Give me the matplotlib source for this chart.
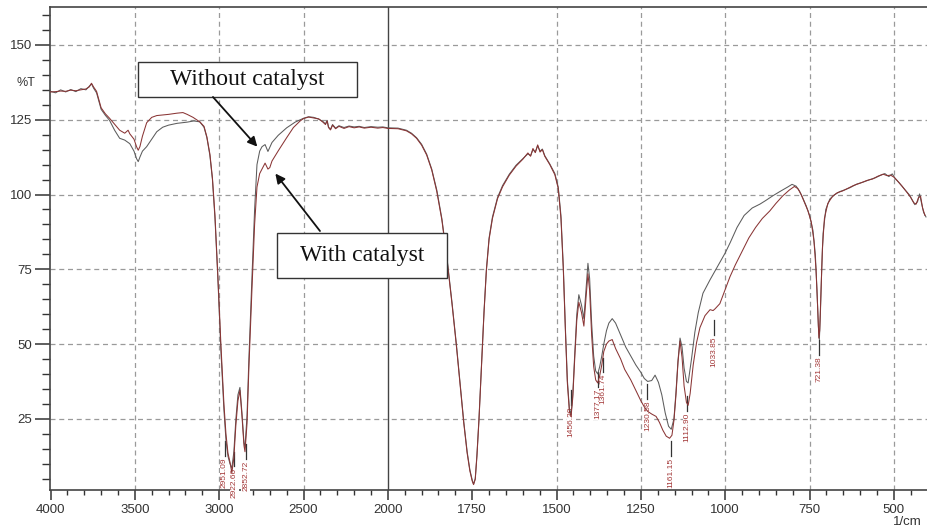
import numpy as np
import matplotlib.pyplot as plt

# FTIR spectra (wavenumber 1/cm, %T)
without_catalyst = [
    (4000, 134.5), (3970, 134.0), (3940, 135.0), (3910, 134.3), (3880, 135.1),
    (3850, 134.4), (3820, 135.4), (3790, 135.0), (3770, 136.2), (3757, 137.0),
    (3745, 135.6), (3727, 134.0), (3700, 128.5), (3675, 126.5), (3650, 124.8),
    (3620, 121.5), (3590, 118.8), (3560, 118.2), (3530, 117.0), (3505, 114.5),
    (3490, 112.0), (3480, 111.0), (3470, 112.5), (3455, 114.5), (3430, 116.0),
    (3400, 118.5), (3370, 121.0), (3335, 122.5), (3300, 123.2), (3250, 123.8),
    (3190, 124.2), (3150, 124.6), (3115, 124.3), (3090, 122.5), (3073, 119.0),
    (3055, 113.0), (3040, 105.0), (3025, 92.0), (3008, 72.0), (2990, 48.0),
    (2972, 28.0), (2960, 18.0), (2948, 12.5), (2936, 10.0), (2925, 8.5),
    (2913, 14.0), (2901, 25.0), (2889, 33.0), (2877, 35.5), (2865, 27.0),
    (2853, 17.0), (2847, 15.5), (2835, 26.0), (2824, 45.0), (2806, 72.0),
    (2790, 95.0), (2776, 110.0), (2760, 114.5), (2746, 116.0), (2728, 116.7),
    (2711, 114.4), (2700, 115.8), (2687, 117.4), (2650, 119.8), (2600, 122.3),
    (2550, 124.2), (2500, 125.5), (2470, 126.0), (2440, 125.8), (2410, 125.2),
    (2385, 124.4), (2370, 123.6), (2360, 124.8), (2352, 122.6), (2340, 121.8),
    (2328, 123.4), (2310, 122.2), (2290, 123.0), (2260, 122.4), (2230, 122.9),
    (2200, 122.6), (2170, 122.8), (2140, 122.4), (2100, 122.7), (2060, 122.5),
    (2030, 122.6), (2000, 122.3), (1970, 122.2), (1945, 121.5), (1930, 120.5),
    (1915, 119.0), (1900, 116.8), (1885, 113.5), (1870, 108.5), (1855, 101.5),
    (1840, 92.0), (1825, 79.0), (1810, 64.0), (1797, 50.0), (1785, 36.0),
    (1775, 24.0), (1765, 14.0), (1757, 8.0), (1750, 4.5), (1746, 3.2),
    (1741, 5.0), (1736, 13.0), (1730, 25.0), (1722, 44.0), (1715, 61.0),
    (1708, 75.0), (1700, 85.5), (1690, 92.5), (1675, 99.0), (1660, 103.0),
    (1640, 106.8), (1620, 109.8), (1600, 112.0), (1585, 113.6), (1577, 113.0),
    (1570, 115.0), (1563, 114.2), (1556, 116.3), (1549, 114.5), (1542, 115.2),
    (1535, 113.0), (1520, 110.2), (1505, 107.0), (1495, 102.5), (1487, 93.0),
    (1480, 76.0), (1474, 56.0), (1468, 38.0), (1462, 28.5), (1457, 26.5),
    (1452, 33.0), (1446, 47.0), (1440, 60.0), (1434, 66.5), (1426, 63.0),
    (1419, 58.5), (1413, 68.0), (1407, 77.0), (1402, 72.0), (1396, 57.0),
    (1390, 46.0), (1384, 41.0), (1378, 40.0), (1372, 42.5), (1366, 46.0),
    (1360, 50.0), (1352, 54.5), (1345, 57.0), (1335, 58.5), (1325, 57.0),
    (1310, 53.0), (1295, 49.0), (1280, 46.0), (1265, 43.0), (1250, 40.5),
    (1240, 38.5), (1230, 37.5), (1218, 37.8), (1208, 39.6), (1198, 37.2),
    (1188, 33.0), (1178, 27.0), (1168, 22.5), (1160, 21.5), (1152, 25.0),
    (1146, 34.0), (1140, 44.5), (1134, 52.0), (1128, 49.0), (1122, 42.0),
    (1115, 37.5), (1110, 37.0), (1100, 45.0), (1090, 54.0), (1080, 60.5),
    (1066, 67.0), (1045, 71.5), (1030, 74.5), (1015, 77.5), (1000, 80.5),
    (985, 84.0), (965, 89.0), (944, 93.0), (920, 95.5), (897, 96.8),
    (880, 98.0), (860, 99.5), (838, 101.0), (815, 102.5), (802, 103.4),
    (790, 102.8), (780, 101.2), (770, 98.8), (760, 96.2), (750, 93.0),
    (740, 88.0), (733, 80.0), (728, 68.0), (724, 56.0), (721, 51.5),
    (718, 60.0), (714, 75.0), (710, 87.0), (702, 95.0), (690, 98.5),
    (675, 100.0), (660, 101.0), (645, 101.6), (630, 102.3), (610, 103.5),
    (590, 104.2), (571, 105.0), (555, 105.6), (540, 106.4), (527, 107.0),
    (515, 106.0), (505, 106.9), (497, 105.5), (485, 104.0), (468, 101.7),
    (455, 100.0), (445, 98.0), (438, 96.6), (430, 97.6), (424, 100.2),
    (418, 97.0), (412, 94.0), (405, 92.5),
]

with_catalyst = [
    (4000, 134.3), (3970, 134.4), (3940, 134.6), (3910, 134.5), (3880, 134.9),
    (3850, 134.7), (3820, 135.0), (3790, 135.3), (3770, 136.0), (3757, 137.2),
    (3745, 136.0), (3727, 134.5), (3700, 129.0), (3675, 127.0), (3650, 125.5),
    (3620, 123.5), (3590, 121.5), (3560, 120.5), (3540, 121.5), (3530, 120.3),
    (3505, 118.5), (3490, 116.0), (3480, 114.8), (3470, 116.0), (3455, 119.5),
    (3430, 124.0), (3400, 125.8), (3370, 126.4), (3335, 126.6), (3300, 126.8),
    (3250, 127.2), (3215, 127.4), (3190, 126.8), (3155, 125.8), (3115, 124.3),
    (3090, 122.8), (3073, 119.3), (3055, 113.5), (3040, 105.5), (3025, 93.0),
    (3008, 73.0), (2990, 50.0), (2972, 30.0), (2960, 20.0), (2948, 13.5),
    (2936, 10.5), (2925, 7.0), (2913, 12.0), (2901, 23.0), (2889, 31.0),
    (2877, 34.5), (2865, 26.0), (2853, 16.0), (2847, 14.0), (2835, 23.5),
    (2824, 42.0), (2806, 68.0), (2790, 90.0), (2776, 102.5), (2760, 107.0),
    (2746, 108.5), (2728, 110.5), (2711, 108.5), (2700, 109.0), (2687, 111.2),
    (2650, 114.6), (2600, 119.0), (2560, 122.4), (2520, 124.6), (2500, 125.4),
    (2470, 125.9), (2440, 125.6), (2410, 125.3), (2385, 124.2), (2370, 123.4),
    (2360, 124.6), (2352, 122.4), (2340, 121.6), (2328, 123.2), (2310, 122.0),
    (2290, 122.8), (2260, 122.1), (2230, 122.7), (2200, 122.3), (2170, 122.6),
    (2140, 122.2), (2100, 122.5), (2060, 122.2), (2030, 122.4), (2000, 122.1),
    (1970, 122.0), (1945, 121.3), (1930, 120.3), (1915, 118.8), (1900, 116.5),
    (1885, 113.2), (1870, 108.2), (1855, 101.0), (1840, 91.5), (1825, 78.5),
    (1810, 63.5), (1797, 49.5), (1785, 35.5), (1775, 23.5), (1765, 13.5),
    (1757, 7.6), (1750, 4.2), (1746, 3.0), (1741, 4.8), (1736, 12.5),
    (1730, 24.5), (1722, 43.5), (1715, 60.5), (1708, 74.5), (1700, 85.0),
    (1690, 92.0), (1675, 98.6), (1660, 102.6), (1640, 106.5), (1620, 109.5),
    (1600, 111.8), (1585, 113.9), (1577, 112.8), (1570, 115.4), (1563, 114.0),
    (1556, 116.6), (1549, 114.2), (1542, 115.0), (1535, 112.8), (1520, 110.0),
    (1505, 106.6), (1495, 102.0), (1487, 92.0), (1480, 75.0), (1474, 55.0),
    (1468, 37.0), (1462, 27.5), (1457, 25.8), (1452, 32.0), (1446, 45.5),
    (1440, 58.0), (1434, 64.0), (1426, 60.5), (1419, 56.0), (1413, 65.0),
    (1407, 73.5), (1402, 68.0), (1396, 53.0), (1390, 42.5), (1384, 38.0),
    (1378, 37.0), (1372, 39.5), (1366, 43.0), (1360, 47.5), (1352, 50.0),
    (1345, 51.0), (1335, 51.5), (1325, 48.5), (1310, 45.0), (1298, 41.5),
    (1280, 38.0), (1265, 34.5), (1250, 31.0), (1240, 29.0), (1230, 27.5),
    (1218, 26.6), (1205, 25.8), (1195, 23.8), (1185, 21.2), (1175, 19.2),
    (1165, 18.5), (1158, 19.5), (1152, 24.5), (1146, 33.0), (1140, 44.0),
    (1134, 51.0), (1128, 45.5), (1122, 36.0), (1115, 30.5), (1110, 29.5),
    (1104, 33.5), (1095, 43.0), (1085, 50.5), (1075, 55.5), (1060, 59.5),
    (1045, 61.5), (1036, 61.2), (1030, 61.8), (1016, 63.5), (1001, 68.0),
    (986, 72.5), (970, 76.5), (950, 81.0), (930, 85.5), (910, 89.0),
    (890, 92.0), (868, 94.5), (850, 97.0), (830, 99.5), (810, 101.5),
    (795, 102.7), (785, 102.0), (775, 100.0), (765, 97.3), (755, 94.6),
    (745, 90.8), (737, 84.5), (731, 75.0), (726, 62.0), (722.5, 52.0),
    (720, 54.5), (716, 68.0), (712, 82.0), (706, 92.0), (696, 97.0),
    (682, 99.4), (668, 100.6), (652, 101.2), (638, 102.0), (620, 103.0),
    (600, 103.8), (580, 104.7), (563, 105.2), (548, 106.1), (532, 106.8),
    (520, 106.3), (510, 106.5), (500, 105.8), (490, 104.6), (476, 102.8),
    (462, 100.8), (450, 99.0), (441, 97.2), (434, 96.8), (427, 99.0),
    (421, 99.4), (415, 95.5), (408, 93.0),
]

# labelled peaks; labels sit a little beside the peak where they crowd
peak_wn = [2951.09, 2922.66, 2852.72, 1456.20, 1377.17, 1361.74,
           1230.58, 1161.15, 1112.90, 1033.85, 721.38]
label_wn = [2968, 2912, 2842, 1456.2, 1377.17, 1361.74,
            1230.58, 1161.15, 1112.9, 1033.85, 721.38]
label_top = [12.0, 8.5, 11.0, 29.0, 35.0, 40.0, 31.0, 12.0, 27.0, 52.5, 45.8]

x_major = [4000, 3500, 3000, 2500, 2000, 1750, 1500, 1250, 1000, 750, 500]
x_grid = [3500, 3000, 2500, 1500, 1250, 1000, 750, 500]
y_major = [25, 50, 75, 100, 125, 150]


def fwd(w):
    # instrument axis: scale doubles below 2000 1/cm
    w = np.asarray(w, dtype=float)
    return np.where(w > 2000, 2000 + (w - 2000) / 2.0, w)


def inv(u):
    u = np.asarray(u, dtype=float)
    return np.where(u > 2000, 2000 + (u - 2000) * 2.0, u)


plt.rcParams['font.family'] = ['Liberation Sans', 'DejaVu Sans']

fig = plt.figure(figsize=(9.28, 5.31), dpi=100)
ax = fig.add_axes([50 / 928, 41 / 531, 878 / 928, 483 / 531])
ax.set_xscale('function', functions=(fwd, inv))
ax.set_xlim(4003, 399)
ax.set_ylim(1.2, 162.7)

wo = np.array(without_catalyst)
wc = np.array(with_catalyst)
ax.plot(wo[:, 0], wo[:, 1], color='#5c5c5c', lw=0.75, zorder=4)
ax.plot(wc[:, 0], wc[:, 1], color='#8a3535', lw=0.75, zorder=4.1)

# grid
ax.set_yticks(y_major)
ax.set_yticks([v for v in range(5, 165, 5) if v not in y_major], minor=True)
ax.grid(axis='y', which='major', ls=(0, (4, 3)), color='#9a9a9a', lw=0.9, zorder=0.5)
for g in x_grid:
    ax.axvline(g, ls=(0, (4, 3)), color='#9a9a9a', lw=0.9, zorder=0.5)
ax.axvline(2000, color='#444444', lw=1.0, zorder=0.6)

# ticks
minor_x = [w for w in range(3900, 2000, -100) if w not in x_major]
minor_x += [w for w in range(1950, 400, -50) if w not in x_major]
ax.set_xticks(x_major)
ax.set_xticklabels([str(v) for v in x_major])
ax.set_xticks(minor_x, minor=True)
ax.set_yticklabels([str(v) for v in y_major])

ax.tick_params(axis='x', which='major', direction='out', length=7, width=1.1,
               pad=3, labelsize=9.5, colors='#333333')
ax.tick_params(axis='x', which='minor', direction='out', length=3.8, width=1.0,
               colors='#333333')
ax.tick_params(axis='y', which='major', direction='out', length=11, width=1.1,
               pad=2, labelsize=9.5, colors='#333333')
ax.tick_params(axis='y', which='minor', direction='out', length=6, width=1.0,
               colors='#333333')

for side in ['left', 'bottom', 'top']:
    ax.spines[side].set_color('#444444')
    ax.spines[side].set_linewidth(1.2)
ax.spines['right'].set_visible(False)

ax.text(-0.017, 0.843, '%T', transform=ax.transAxes, ha='right', va='center',
        fontsize=9, color='#333333')
ax.text(0.976, -0.066, '1/cm', transform=ax.transAxes, ha='center', va='center',
        fontsize=9.5, color='#333333', clip_on=False)

# peak labels with short leaders
for w, lw_, top in zip(peak_wn, label_wn, label_top):
    ax.text(lw_, top, f'{w:.2f}', rotation=90, ha='center', va='top', fontsize=6,
            color='#a33838', zorder=3, clip_on=False,
            bbox=dict(boxstyle='square,pad=0.12', fc='white', ec='none'))
    ax.plot([lw_, lw_], [top + 0.6, top + 5.5], color='#333333', lw=0.9, zorder=3.5)

# callout boxes
box_font = dict(family=['Liberation Serif', 'DejaVu Serif'], fontsize=17, color='#111111')
ax.add_patch(plt.Rectangle((0.1002, 0.8137), 0.2495, 0.0724, transform=ax.transAxes,
                           fc='white', ec='#333333', lw=1.0, zorder=5))
ax.text(0.2249, 0.8499, 'Without catalyst', transform=ax.transAxes, ha='center',
        va='center', zorder=6, **box_font)
ax.add_patch(plt.Rectangle((0.2585, 0.4389), 0.1937, 0.0932, transform=ax.transAxes,
                           fc='white', ec='#333333', lw=1.0, zorder=5))
ax.text(0.3554, 0.4855, 'With catalyst', transform=ax.transAxes, ha='center',
        va='center', zorder=6, **box_font)

arrow = dict(arrowstyle='-|>', color='#111111', lw=1.3, mutation_scale=14,
             shrinkA=0, shrinkB=0)
ax.annotate('', xy=(2774, 116.0), xytext=(0.1856, 0.8137), textcoords='axes fraction',
            arrowprops=arrow, zorder=6)
ax.annotate('', xy=(2667, 107.0), xytext=(0.3075, 0.5362), textcoords='axes fraction',
            arrowprops=arrow, zorder=6)

fig.savefig('out.png', dpi=100)
